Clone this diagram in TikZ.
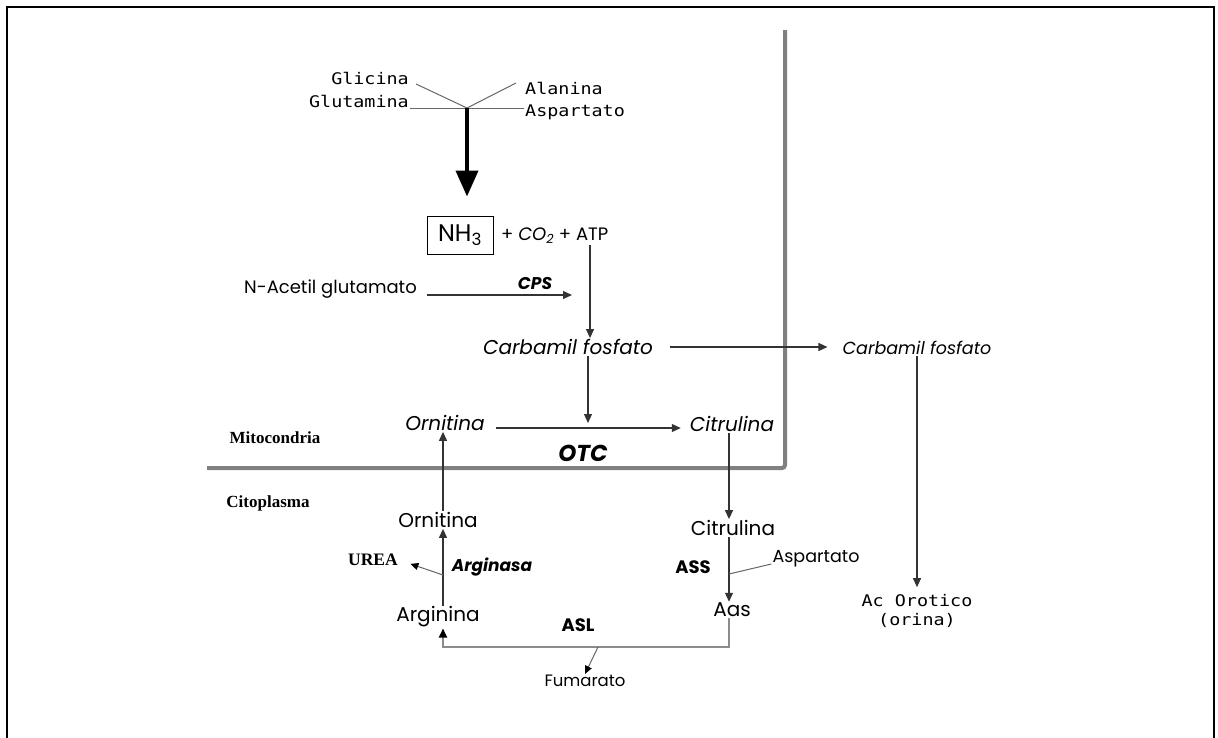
\documentclass[tikz,border=0pt]{standalone}
\usepackage{fontspec}
\usetikzlibrary{arrows.meta}
\newfontfamily\comicfont{Poppins}
\newfontfamily\monofont[FakeStretch=1.15]{DejaVu Sans Mono}
\newfontfamily\timesfont{Liberation Serif}
\tikzset{
  comic/.style={font=\comicfont\fontsize{20}{23}\selectfont, inner sep=1pt},
  enzyme/.style={font=\comicfont\bfseries\fontsize{18}{21}\selectfont, inner sep=1pt},
  mono/.style={font=\monofont\fontsize{16}{19}\selectfont, inner sep=1pt},
  region/.style={font=\timesfont\bfseries\fontsize{17}{20}\selectfont, inner sep=1pt},
  flow/.style={draw=black!80, line width=1.2pt, -{Triangle[width=8pt,length=9pt]}},
  thinline/.style={draw=black!60, line width=1pt},
  membrane/.style={draw=black!50, line width=4pt, rounded corners=3pt},
}
\begin{document}
\begin{tikzpicture}[x=1pt,y=-1pt]
  \useasboundingbox (0,0) rectangle (1218,737);
  \draw[line width=2pt] (7,745) -- (7,7) -- (1214,7) -- (1214,745);
  \draw[membrane] (785,30) -- (785,468) -- (207,468);

  \node[mono, anchor=east] (glicina) at (410,78) {Glicina};
  \node[mono, anchor=east] (glutamina) at (410,101) {Glutamina};
  \node[mono, anchor=west] (alanina) at (524,88) {Alanina};
  \node[mono, anchor=west] (aspa) at (524,112) {Aspartato};
  \coordinate (hub) at (467,108);
  \draw[thinline] ([xshift=6pt,yshift=-6pt]glicina.east) -- (hub);
  \draw[thinline] ([xshift=-8pt,yshift=5pt]alanina.west) -- (hub);
  \draw[thinline] (glutamina.east |- hub) -- (aspa.west |- hub);

  \node[draw, line width=1pt, minimum width=66pt, minimum height=38pt, comic, font=\comicfont\fontsize{24}{27}\selectfont] (nh3) at (460,235) {NH\textsubscript{3}};
  \draw[line width=4pt, -{Triangle[width=22pt,length=26pt]}, shorten >=19pt] (hub) -- (hub |- nh3.north);
  \node[comic, font=\comicfont\fontsize{18}{21}\selectfont, anchor=west] (reac) at (500,236) {+ \textit{CO\textsubscript{2}} + ATP};

  \node[comic, font=\comicfont\fontsize{18}{21}\selectfont, anchor=east] (nag) at (418,289) {N-Acetil glutamato};
  \coordinate (cps) at (590,295);
  \node[enzyme, font=\comicfont\bfseries\itshape\fontsize{17}{20}\selectfont] (cpslab) at (535,284) {CPS};

  \node[comic] (carbl) at (568,347) {\textit{Carbamil fosfato}};
  \node[comic, font=\comicfont\itshape\fontsize{17.5}{20}\selectfont] (carbr) at (917,348) {Carbamil fosfato};
  \node[mono, align=center] (orot) at (917,611) {Ac Orotico\\(orina)};

  \draw[flow] (cps |- reac.south) -- (cps |- carbl.north);
  \draw[flow, shorten <=9pt, shorten >=18pt] (nag.east |- cps) -- (cps);
  \draw[flow, shorten <=16pt, shorten >=14pt] (carbl.east) -- (carbl.east -| carbr.west);
  \draw[flow, shorten >=6pt] (carbr.south) -- (orot.north);

  \node[comic] (ornm) at (445,423) {\textit{Ornitina}};
  \node[comic] (citm) at (732,424) {\textit{Citrulina}};
  \coordinate (otc) at (588,428);
  \draw[flow, shorten <=10pt, shorten >=8pt] (otc -| ornm.east) -- (otc -| citm.west);
  \draw[flow, shorten >=5pt] (carbl.south -| otc) -- (otc);
  \node[enzyme, font=\comicfont\bfseries\itshape\fontsize{23}{26}\selectfont] (otclab) at (583,453) {OTC};

  \node[region] (mito) at (275,438) {Mitocondria};
  \node[region] (cito) at (268,503) {Citoplasma};

  \node[comic] (ornc) at (438,520) {Ornitina};
  \node[comic] (argi) at (438,617) {Arginina};
  \coordinate (axis) at (443,575);
  \draw[flow] (ornc.north -| axis) -- (ornm.south -| axis);
  \draw[flow] (argi.north -| axis) -- (ornc.south -| axis);
  \node[region, font=\timesfont\bfseries\fontsize{17.5}{20}\selectfont] (urea) at (373,560) {UREA};
  \draw[flow, draw=black!60, line width=1pt, -{Triangle[width=7pt,length=8pt,color=black]}, shorten >=12pt] (axis) -- (urea.east);
  \node[enzyme, font=\comicfont\bfseries\itshape\fontsize{17}{20}\selectfont] (arginasa) at (492,567) {Arginasa};

  \node[comic] (citc) at (733,528) {Citrulina};
  \node[comic] (aas) at (732,610) {Aas};
  \node[enzyme] (ass) at (693,567) {ASS};
  \node[comic, font=\comicfont\fontsize{17.5}{20}\selectfont] (aspc) at (816,559) {Aspartato};
  \coordinate (assj) at (729,574);
  \draw[flow] (citm.south -| assj) -- (citc.north -| assj);
  \draw[flow] (citc.south -| assj) -- (aas.north -| assj);
  \draw[thinline] ([yshift=-5pt]aspc.west) -- (assj);

  \coordinate (lb) at (443,647);
  \coordinate (fumc) at (598,647);
  \draw[flow, draw=black!45, line width=2pt, -{Triangle[width=8pt,length=9pt,color=black]}] (aas.south -| assj) |- (lb) -- (argi.south -| lb);
  \node[comic, font=\comicfont\fontsize{16.5}{19}\selectfont] (fum) at (585,681) {Fumarato};
  \node[enzyme] (asl) at (578,625) {ASL};
  \draw[flow, draw=black!60, line width=1pt, -{Triangle[width=7pt,length=8pt,color=black]}] (fumc) -- (fum.north);
\end{tikzpicture}
\end{document}
